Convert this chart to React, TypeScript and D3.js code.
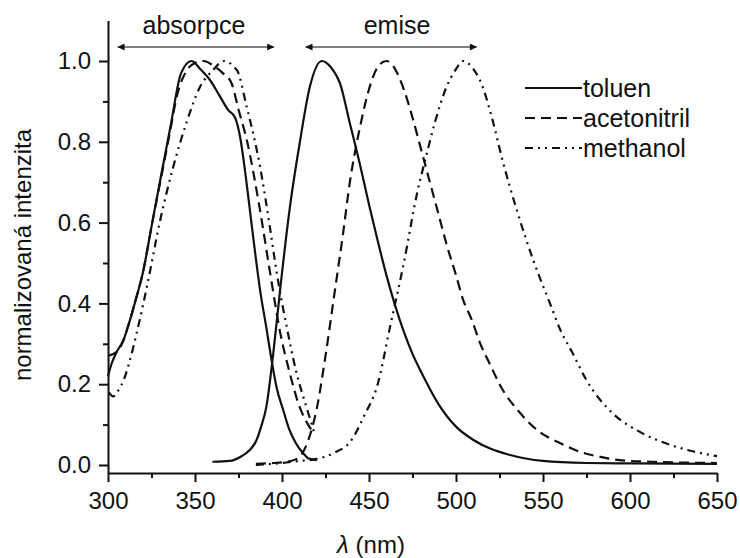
import React, { useEffect, useRef } from 'react';
import * as d3 from 'd3';

// spektra: [vlnová délka (nm), normalizovaná intenzita]
const toluenAbs: [number, number][] = [
  [300, 0.22], [302, 0.25], [305, 0.28], [309, 0.31], [312, 0.35], [316, 0.41], [320, 0.475],
  [325, 0.59], [330, 0.705], [336, 0.84], [342, 0.97], [348, 1.0], [353, 0.98], [358.6, 0.953],
  [364, 0.915], [369, 0.879], [373, 0.86], [376, 0.81], [379, 0.72], [382, 0.615], [385, 0.51],
  [387.4, 0.433], [391, 0.34], [394, 0.26], [397, 0.19], [400.7, 0.136], [404, 0.09], [408, 0.054],
  [412, 0.03], [415, 0.017], [420, 0.012]
];
const toluenEm: [number, number][] = [
  [360, 0.008], [370, 0.01], [376, 0.02], [381, 0.035], [385.4, 0.062], [388, 0.095], [391, 0.144],
  [395, 0.277], [398.9, 0.433], [404.6, 0.64], [410.3, 0.8], [416, 0.936], [422.8, 1.0], [428, 0.985],
  [433.3, 0.945], [439, 0.846], [445, 0.74], [450, 0.645], [455, 0.555], [460, 0.47], [465, 0.395],
  [470, 0.33], [475, 0.275], [480, 0.23], [490, 0.15], [500, 0.095], [510, 0.062], [520, 0.04],
  [530, 0.026], [540, 0.016], [550, 0.01], [575, 0.005], [600, 0.004], [650, 0.003]
];
const acetonitrilAbs: [number, number][] = [
  [300, 0.27], [305, 0.28], [308, 0.3], [312, 0.35], [316, 0.41], [320, 0.475], [325, 0.59],
  [330, 0.7], [335, 0.81], [340, 0.92], [345, 0.975], [350, 0.995], [355, 1.0], [360, 0.99],
  [366, 0.97], [371, 0.945], [375, 0.88], [380, 0.8], [387, 0.64], [393, 0.48], [399, 0.327],
  [404.5, 0.227], [410, 0.145], [415, 0.1], [418, 0.08]
];
const acetonitrilEm: [number, number][] = [
  [385, 0.003], [395, 0.005], [405, 0.01], [410, 0.02], [415, 0.06], [420, 0.14], [425, 0.27],
  [430, 0.42], [435, 0.57], [439, 0.7], [445, 0.84], [450, 0.93], [455, 0.985], [460, 1.0],
  [465, 0.98], [470, 0.93], [475, 0.86], [480, 0.78], [485, 0.7], [490, 0.62], [495, 0.54],
  [500, 0.47], [504, 0.41], [509, 0.36], [514, 0.3], [520, 0.245], [525, 0.2], [537, 0.128],
  [548, 0.082], [560, 0.054], [571, 0.033], [583, 0.02], [594, 0.012], [613, 0.008], [630, 0.006],
  [650, 0.005]
];
const methanolAbs: [number, number][] = [
  [300.5, 0.18], [303, 0.17], [306, 0.185], [309, 0.21], [312, 0.25], [316.5, 0.327], [322.3, 0.44],
  [330, 0.606], [337.5, 0.738], [345, 0.846], [352.9, 0.936], [360.5, 0.978], [366.3, 1.0],
  [374, 0.978], [379.7, 0.887], [387.4, 0.738], [393, 0.59], [397, 0.475], [402.7, 0.342],
  [408.4, 0.227], [414, 0.144], [419, 0.074]
];
const methanolEm: [number, number][] = [
  [385, 0.0], [400, 0.005], [410, 0.01], [420, 0.015], [430, 0.03], [440, 0.062], [447, 0.12],
  [455, 0.2], [462, 0.34], [470, 0.5], [478, 0.68], [482, 0.75], [488, 0.85], [494, 0.93],
  [500, 0.98], [504, 1.0], [510, 0.98], [515, 0.94], [520, 0.87], [527, 0.75], [535, 0.63],
  [545, 0.5], [554, 0.4], [560, 0.334], [567, 0.277], [575, 0.21], [590, 0.128], [605.7, 0.082],
  [623, 0.05], [636, 0.034], [646, 0.025], [650, 0.022]
];

const seriesNames = ['toluen', 'acetonitril', 'methanol'];
const dashes = ['none', '10,6', '8,5,2,5,2,5'];
const xTicks = [300, 350, 400, 450, 500, 550, 600, 650];
const yTicks = [0.0, 0.2, 0.4, 0.6, 0.8, 1.0];

const FONT = '"Liberation Sans", Arial, sans-serif';

const App = () => {
  const svgRef = useRef<SVGSVGElement>(null);

  useEffect(() => {
    const svg = d3.select(svgRef.current);
    svg.selectAll('*').remove();

    const width = 740;
    const height = 558;

    const x = d3.scaleLinear().domain([300, 650]).range([108, 717]);
    const y = d3.scaleLinear().domain([0, 1]).range([465, 61]);
    const yTop = 1.1;
    const yBottom = -0.02;

    svg.append('rect').attr('width', width).attr('height', height).attr('fill', 'white');

    // šipky nad grafem
    const defs = svg.append('defs');
    defs.append('marker')
      .attr('id', 'ah')
      .attr('viewBox', '0 0 10 10')
      .attr('refX', 10).attr('refY', 5)
      .attr('markerWidth', 10).attr('markerHeight', 7)
      .attr('markerUnits', 'userSpaceOnUse')
      .attr('orient', 'auto-start-reverse')
      .append('path').attr('d', 'M0,0 L10,5 L0,10 z').attr('fill', '#111');

    const arrows = [
      { label: 'absorpce', from: 305.5, to: 395.5, tx: 194 },
      { label: 'emise', from: 413.5, to: 512, tx: 397 }
    ];
    arrows.forEach(a => {
      svg.append('line')
        .attr('x1', x(a.from)).attr('x2', x(a.to))
        .attr('y1', 47).attr('y2', 47)
        .attr('stroke', '#555').attr('stroke-width', 1.3)
        .attr('marker-start', 'url(#ah)').attr('marker-end', 'url(#ah)');
      svg.append('text')
        .attr('x', a.tx).attr('y', 34)
        .attr('text-anchor', 'middle')
        .style('font-family', FONT).style('font-size', '25px').attr('fill', '#111')
        .text(a.label);
    });

    // křivky
    const line = d3.line<[number, number]>()
      .x(d => x(d[0]))
      .y(d => y(d[1]))
      .curve(d3.curveMonotoneX);

    const curves = [
      { data: toluenAbs, s: 0 }, { data: toluenEm, s: 0 },
      { data: acetonitrilAbs, s: 1 }, { data: acetonitrilEm, s: 1 },
      { data: methanolAbs, s: 2 }, { data: methanolEm, s: 2 }
    ];
    curves.forEach(c => {
      svg.append('path')
        .attr('d', line(c.data))
        .attr('fill', 'none')
        .attr('stroke', '#111')
        .attr('stroke-width', 2.2)
        .attr('stroke-dasharray', dashes[c.s]);
    });

    // osy
    const yAxisScale = d3.scaleLinear().domain([yBottom, yTop]).range([y(yBottom), y(yTop)]);
    const xAxisY = y(yBottom);

    const xAxis = svg.append('g')
      .attr('transform', `translate(0,${xAxisY})`)
      .call(d3.axisBottom(x).tickValues(xTicks).tickFormat(d3.format('d')).tickSize(9).tickSizeOuter(0).tickPadding(10));
    svg.append('g')
      .attr('transform', `translate(0,${xAxisY})`)
      .call(d3.axisBottom(x).tickValues(d3.range(325, 650, 50)).tickFormat(() => '').tickSize(5).tickSizeOuter(0))
      .select('.domain').remove();

    const yAxis = svg.append('g')
      .attr('transform', `translate(${x(300)},0)`)
      .call(d3.axisLeft(yAxisScale).tickValues(yTicks).tickFormat(d3.format('.1f')).tickSize(9).tickSizeOuter(0).tickPadding(8));
    svg.append('g')
      .attr('transform', `translate(${x(300)},0)`)
      .call(d3.axisLeft(yAxisScale).tickValues([0.1, 0.3, 0.5, 0.7, 0.9]).tickFormat(() => '').tickSize(5).tickSizeOuter(0))
      .select('.domain').remove();

    [xAxis, yAxis].forEach(g => {
      g.select('.domain').attr('stroke', '#111').attr('stroke-width', 2);
      g.selectAll('.tick line').attr('stroke', '#111').attr('stroke-width', 2);
      g.selectAll('.tick text')
        .style('font-family', FONT).style('font-size', '24px').attr('fill', '#111');
    });
    svg.selectAll('.tick line').attr('stroke', '#111').attr('stroke-width', 2);

    // popisky os
    svg.append('text')
      .attr('transform', `translate(31,255) rotate(-90)`)
      .attr('text-anchor', 'middle')
      .style('font-family', FONT).style('font-size', '24px').attr('fill', '#111')
      .text('normalizovaná intenzita');

    const xl = svg.append('text')
      .attr('x', 371).attr('y', 553)
      .attr('text-anchor', 'middle')
      .style('font-family', FONT).style('font-size', '24px').attr('fill', '#111');
    xl.append('tspan').style('font-style', 'italic').text('λ');
    xl.append('tspan').text(' (nm)');

    // legenda
    seriesNames.forEach((name, i) => {
      const ly = 88 + i * 30;
      svg.append('line')
        .attr('x1', 525).attr('x2', 582)
        .attr('y1', ly).attr('y2', ly)
        .attr('stroke', '#111').attr('stroke-width', 2.2)
        .attr('stroke-dasharray', dashes[i]);
      svg.append('text')
        .attr('x', 583).attr('y', ly + 9)
        .style('font-family', FONT).style('font-size', '25px').attr('fill', '#111')
        .text(name);
    });
  }, []);

  return <svg ref={svgRef} width="740" height="558" style={{ position: 'absolute', left: 0, top: 0 }}></svg>;
};

export default App;
